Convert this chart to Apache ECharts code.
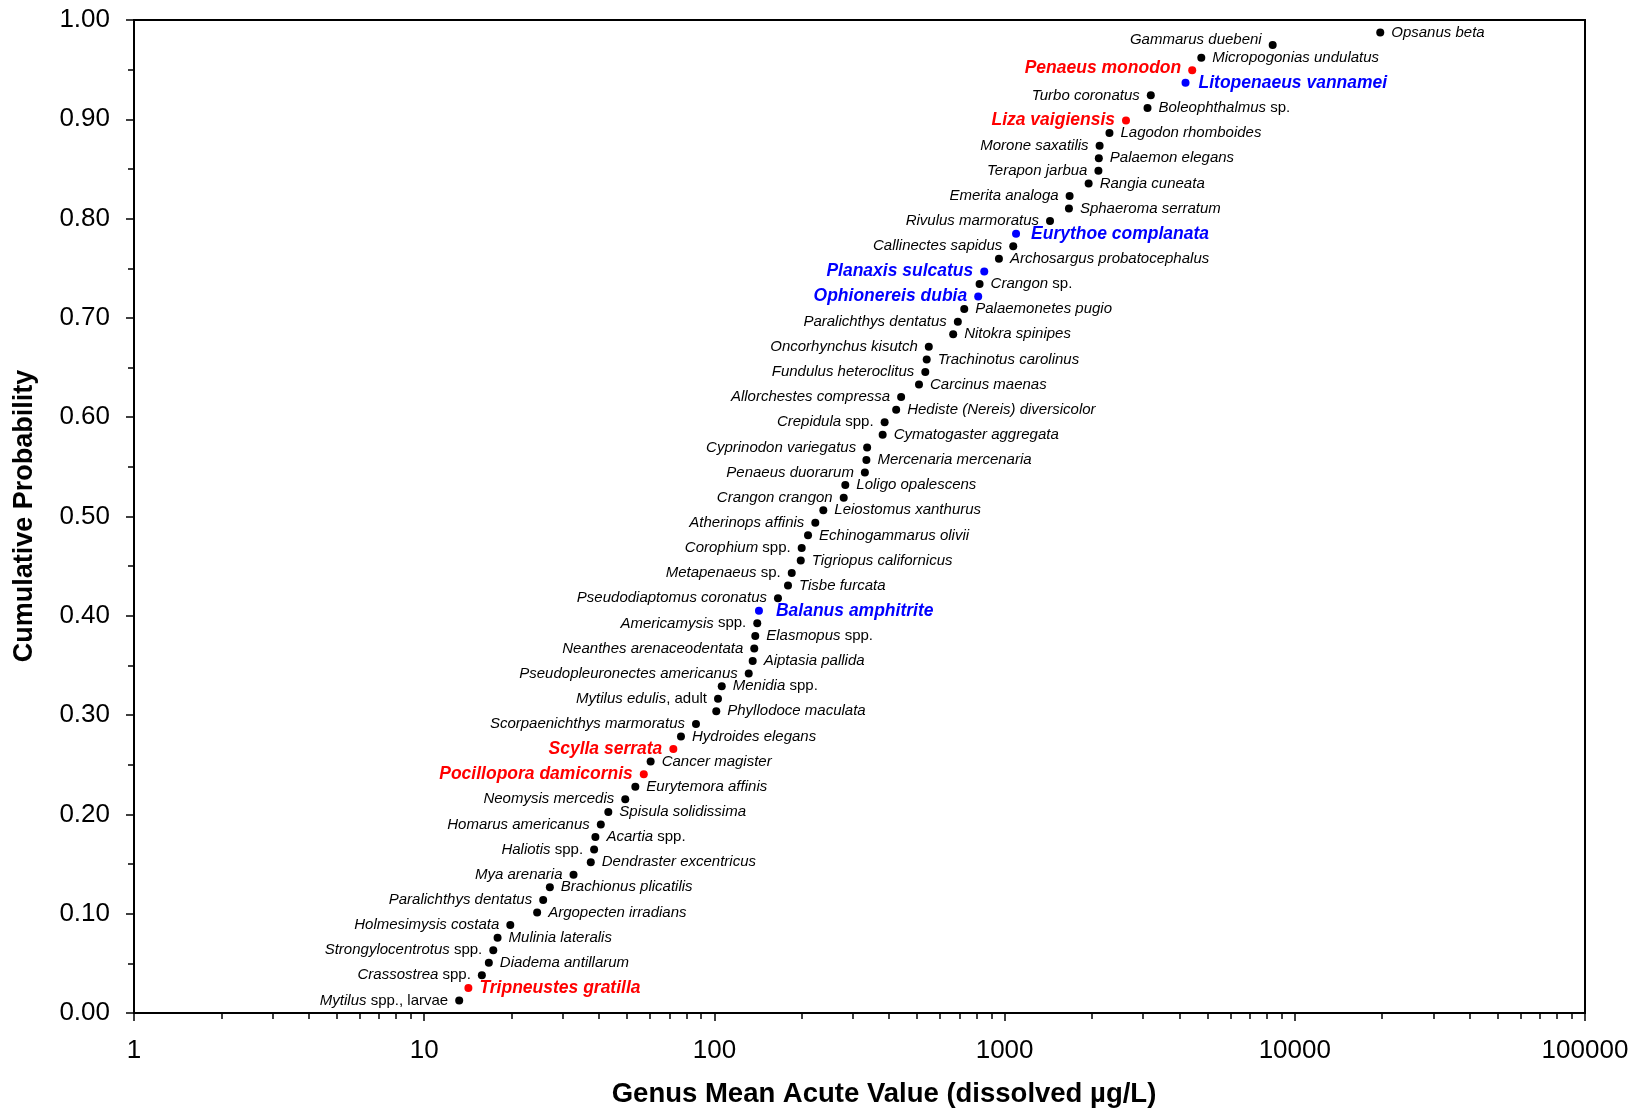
<!DOCTYPE html>
<html>
<head>
<meta charset="utf-8">
<title>Genus Mean Acute Values - Species Sensitivity Distribution</title>
<script src="https://cdn.jsdelivr.net/npm/echarts@6/dist/echarts.min.js"></script>
<style>
  html, body { margin: 0; padding: 0; background: #fff; }
  #chart { width: 1648px; height: 1110px; }
</style>
</head>
<body>
<div id="chart"></div>
<script>
// Genus names (italic part), ranked from most to least sensitive
const genusName = [
  'Mytilus', 'Tripneustes gratilla', 'Crassostrea', 'Diadema antillarum', 'Strongylocentrotus',
  'Mulinia lateralis', 'Holmesimysis costata', 'Argopecten irradians', 'Paralichthys dentatus', 'Brachionus plicatilis',
  'Mya arenaria', 'Dendraster excentricus', 'Haliotis', 'Acartia', 'Homarus americanus',
  'Spisula solidissima', 'Neomysis mercedis', 'Eurytemora affinis', 'Pocillopora damicornis', 'Cancer magister',
  'Scylla serrata', 'Hydroides elegans', 'Scorpaenichthys marmoratus', 'Phyllodoce maculata', 'Mytilus edulis',
  'Menidia', 'Pseudopleuronectes americanus', 'Aiptasia pallida', 'Neanthes arenaceodentata', 'Elasmopus',
  'Americamysis', 'Balanus amphitrite', 'Pseudodiaptomus coronatus', 'Tisbe furcata', 'Metapenaeus',
  'Tigriopus californicus', 'Corophium', 'Echinogammarus olivii', 'Atherinops affinis', 'Leiostomus xanthurus',
  'Crangon crangon', 'Loligo opalescens', 'Penaeus duorarum', 'Mercenaria mercenaria', 'Cyprinodon variegatus',
  'Cymatogaster aggregata', 'Crepidula', 'Hediste (Nereis) diversicolor', 'Allorchestes compressa', 'Carcinus maenas',
  'Fundulus heteroclitus', 'Trachinotus carolinus', 'Oncorhynchus kisutch', 'Nitokra spinipes', 'Paralichthys dentatus',
  'Palaemonetes pugio', 'Ophionereis dubia', 'Crangon', 'Planaxis sulcatus', 'Archosargus probatocephalus',
  'Callinectes sapidus', 'Eurythoe complanata', 'Rivulus marmoratus', 'Sphaeroma serratum', 'Emerita analoga',
  'Rangia cuneata', 'Terapon jarbua', 'Palaemon elegans', 'Morone saxatilis', 'Lagodon rhomboides',
  'Liza vaigiensis', 'Boleophthalmus', 'Turbo coronatus', 'Litopenaeus vannamei', 'Penaeus monodon',
  'Micropogonias undulatus', 'Gammarus duebeni', 'Opsanus beta'
];

// Upright qualifiers that follow the italic name
const nameSuffix = {
  0: ' spp., larvae', 2: ' spp.', 4: ' spp.', 12: ' spp.', 13: ' spp.',
  24: ', adult', 25: ' spp.', 29: ' spp.', 30: ' spp.', 34: ' sp.',
  36: ' spp.', 46: ' spp.', 57: ' sp.', 71: ' sp.'
};

// Genus Mean Acute Value (dissolved µg/L)
const gmav = [
  13.2, 14.2, 15.8, 16.7, 17.3, 17.9, 19.8, 24.5, 25.7, 27.1,
  32.7, 37.5, 38.5, 38.9, 40.6, 43.1, 49.3, 53.4, 57.1, 60.3,
  72.2, 76.7, 86.4, 101.5, 102.9, 106.0, 131.3, 135.5, 137.2, 138.3,
  140.5, 142.4, 165.6, 179.3, 184.7, 198.4, 199.9, 210.2, 222.7, 237.3,
  279.0, 282.5, 330, 334, 336, 380, 386, 423, 440, 507,
  533, 539, 548, 665, 690, 726, 811, 820, 851, 956,
  1071, 1095, 1434, 1666, 1675, 1948, 2105, 2112, 2125, 2298,
  2620, 3108, 3190, 4202, 4431, 4762, 8390, 19700
];

// Cumulative probability of each ranked genus
const cumProb = [
  0.0127, 0.0253, 0.0380, 0.0506, 0.0633, 0.0759, 0.0886, 0.1013, 0.1139, 0.1266,
  0.1392, 0.1519, 0.1646, 0.1772, 0.1899, 0.2025, 0.2152, 0.2278, 0.2405, 0.2532,
  0.2658, 0.2785, 0.2911, 0.3038, 0.3165, 0.3291, 0.3418, 0.3544, 0.3671, 0.3797,
  0.3924, 0.4051, 0.4177, 0.4304, 0.4430, 0.4557, 0.4684, 0.4810, 0.4937, 0.5063,
  0.5190, 0.5316, 0.5443, 0.5570, 0.5696, 0.5823, 0.5949, 0.6076, 0.6203, 0.6329,
  0.6456, 0.6582, 0.6709, 0.6835, 0.6962, 0.7089, 0.7215, 0.7342, 0.7468, 0.7595,
  0.7722, 0.7848, 0.7975, 0.8101, 0.8228, 0.8354, 0.8481, 0.8608, 0.8734, 0.8861,
  0.8987, 0.9114, 0.9241, 0.9367, 0.9494, 0.9620, 0.9747, 0.9873
];

// Highlighted genera: red and blue groups
const redGenera = ['Tripneustes gratilla', 'Pocillopora damicornis', 'Scylla serrata', 'Liza vaigiensis', 'Penaeus monodon'];
const blueGenera = ['Balanus amphitrite', 'Ophionereis dubia', 'Planaxis sulcatus', 'Eurythoe complanata', 'Litopenaeus vannamei'];

// Axis tick labels
const xTickLabels = [1, 10, 100, 1000, 10000, 100000];
const yTickLabels = ['0.00', '0.10', '0.20', '0.30', '0.40', '0.50', '0.60', '0.70', '0.80', '0.90', '1.00'];

const FONT = '"Liberation Sans", Arial, Helvetica, sans-serif';

// Small label nudges for crowded spots, [dx, dy] in pixels
const labelNudge = { 76: [0, -5], 74: [0, -2], 31: [6, 0], 61: [4, 0], 73: [2, 0] };

// Minor log ticks (2..9 in each decade)
const minorLogTicks = [];
for (let d = 1; d < 100000; d *= 10) {
  for (let m = 2; m <= 9; m++) minorLogTicks.push(m * d);
}

const points = genusName.map((name, i) => {
  let color = '#000000';
  let highlighted = false;
  if (redGenera.includes(name)) { color = '#ff0000'; highlighted = true; }
  if (blueGenera.includes(name)) { color = '#0000ff'; highlighted = true; }
  const suffix = nameSuffix[i] || '';
  const text = highlighted
    ? '{b|' + name + '}'
    : '{i|' + name + '}' + (suffix ? '{n|' + suffix + '}' : '');
  return {
    value: [gmav[i], cumProb[i]],
    itemStyle: { color: color, opacity: 1 },
    label: {
      show: true,
      position: i % 2 === 0 ? 'left' : 'right',
      distance: 7,
      offset: labelNudge[i] || [0, 0],
      formatter: text,
      rich: {
        i: { fontFamily: FONT, fontStyle: 'italic', fontSize: 15, color: '#000' },
        n: { fontFamily: FONT, fontSize: 15, color: '#000' },
        b: { fontFamily: FONT, fontStyle: 'italic', fontWeight: 'bold', fontSize: 17.5, color: color }
      }
    }
  };
});

const chart = echarts.init(document.getElementById('chart'), null, { renderer: 'canvas' });

chart.setOption({
  animation: false,
  backgroundColor: '#ffffff',
  grid: {
    left: 134, right: 63, top: 20, bottom: 97,
    show: true, borderColor: '#000', borderWidth: 2, backgroundColor: 'transparent'
  },
  xAxis: [
    {
      type: 'log', logBase: 10, min: 1, max: 100000,
      axisLine: { show: true, onZero: false, lineStyle: { color: '#000', width: 2 } },
      axisTick: { show: true, inside: false, length: 8, lineStyle: { color: '#000', width: 1.5 } },
      axisLabel: {
        color: '#000', fontFamily: FONT, fontSize: 26, margin: 25,
        formatter: v => {
          const label = xTickLabels.find(t => Math.abs(t - v) / t < 1e-6);
          return label !== undefined ? String(label) : '';
        }
      },
      splitLine: { show: false }
    },
    {
      type: 'log', logBase: 10, min: 1, max: 100000, gridIndex: 0, position: 'bottom',
      axisLine: { show: false },
      axisTick: { show: true, inside: false, length: 6, customValues: minorLogTicks, lineStyle: { color: '#000', width: 1.5 } },
      axisLabel: { show: false },
      splitLine: { show: false }
    }
  ],
  yAxis: {
    type: 'value', min: 0, max: 1, interval: 0.1,
    axisLine: { show: true, onZero: false, lineStyle: { color: '#000', width: 2 } },
    axisTick: { show: true, inside: false, length: 8, lineStyle: { color: '#000', width: 1.5 } },
    minorTick: { show: true, splitNumber: 2, length: 6, lineStyle: { color: '#000', width: 1.5 } },
    axisLabel: {
      color: '#000', fontFamily: FONT, fontSize: 26, margin: 24,
      formatter: v => yTickLabels[Math.round(v * 10)]
    },
    splitLine: { show: false },
    minorSplitLine: { show: false }
  },
  graphic: [
    {
      type: 'text', x: 884, y: 1094,
      style: {
        text: 'Genus Mean Acute Value (dissolved µg/L)',
        font: 'bold 27.5px ' + FONT, fill: '#000',
        textAlign: 'center', textVerticalAlign: 'middle'
      }
    },
    {
      type: 'text', x: 25, y: 516, rotation: Math.PI / 2,
      style: {
        text: 'Cumulative Probability',
        font: 'bold 27px ' + FONT, fill: '#000',
        textAlign: 'center', textVerticalAlign: 'middle'
      }
    }
  ],
  series: [
    {
      type: 'scatter',
      xAxisIndex: 0,
      symbol: 'circle',
      symbolSize: 8,
      data: points,
      emphasis: { disabled: true }
    }
  ]
});
</script>
</body>
</html>
